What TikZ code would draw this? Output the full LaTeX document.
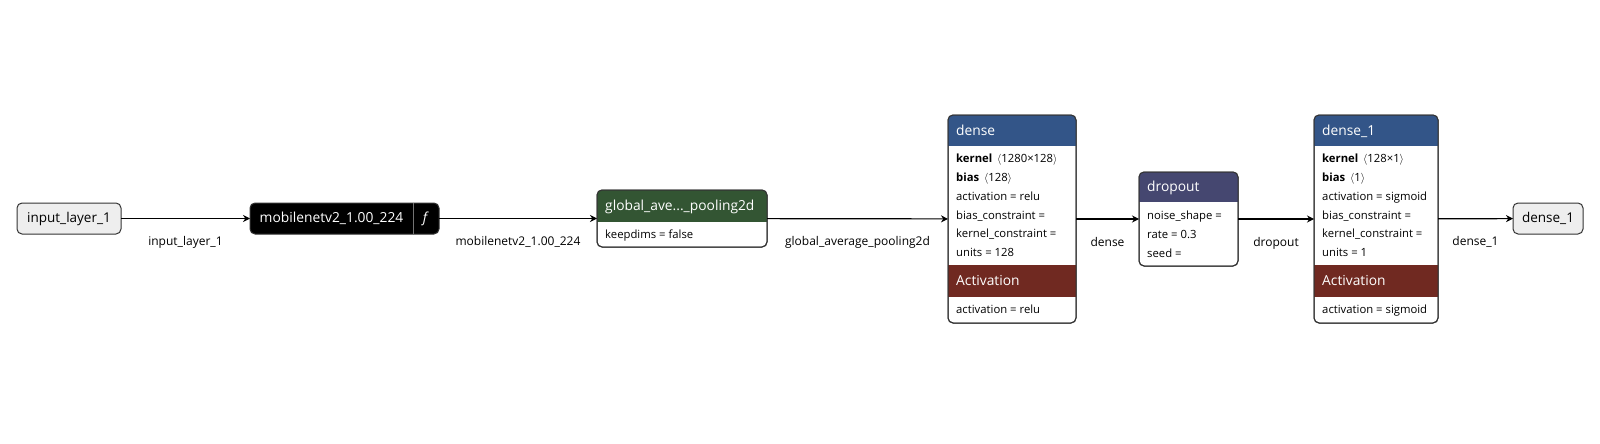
\documentclass[tikz,border=0pt]{standalone}
\usepackage{fontspec}
\setmainfont{Open Sans}
\usetikzlibrary{arrows.meta,positioning}
\definecolor{layerblue}{RGB}{51,85,136}
\definecolor{actred}{RGB}{112,41,33}
\definecolor{poolgreen}{RGB}{51,85,51}
\definecolor{dropviolet}{RGB}{69,71,112}
\definecolor{iogray}{RGB}{238,238,238}
\definecolor{framegray}{RGB}{51,51,51}

\begin{document}
\begin{tikzpicture}[x=1pt, y=-1pt,
  font=\fontsize{11.3}{13}\selectfont,
  frame/.style={draw=framegray, line width=1pt, rounded corners=5pt,
                fill=white, inner sep=0pt, outer sep=0pt},
  frameline/.style={draw=framegray, line width=1pt, rounded corners=5pt},
  io/.style={frame, fill=iogray, minimum height=31pt,
             font=\fontsize{13.5}{16}\selectfont},
  head/.style={anchor=west, text=white, inner sep=0pt,
               text height=10pt, text depth=3pt,
               font=\fontsize{13.8}{16}\selectfont},
  attr/.style={anchor=west, inner sep=0pt, text height=8pt, text depth=2.5pt},
  flow/.style={-{Stealth[length=7pt,width=7pt]}, line width=1.2pt, draw=black},
  lbl/.style={midway, below=14pt, font=\fontsize{12}{14}\selectfont}]
  \useasboundingbox (0,0) rectangle (1600,444);

  % input and output
  \node[io, minimum width=104pt] (input) at (69,218.5) {input\_layer\_1};
  \node[io, minimum width=70pt] (output) at (1548,218.5) {dense\_1};

  % mobilenet function block
  \node[frame, fill=black, minimum width=189pt, minimum height=31pt]
    (mobile) at (344.5,218.5) {};
  \draw[black!55, line width=0.8pt] ([xshift=-26pt]mobile.north east)
    -- ([xshift=-26pt]mobile.south east);
  \node[head, anchor=center] (mobilename) at (331.5,219)
    {mobilenetv2\_1.00\_224};
  \node[head, anchor=center] (mobilef) at (426,219) {\textit{f}};

  % global average pooling
  \node[frame, minimum width=170pt, minimum height=57pt] (gap) at (682,218.5) {};
  \begin{scope}
    \clip[rounded corners=5pt] (gap.north west) rectangle (gap.south east);
    \fill[poolgreen] (gap.north west) rectangle ([yshift=-32pt]gap.north east);
  \end{scope}
  \draw[frameline] (gap.north west) rectangle (gap.south east);
  \node[head] (gaphead) at (605,207) {global\_ave...\_pooling2d};
  \node[attr] (gapkeep) at (605,236) {keepdims = false};

  % dense
  \node[frame, minimum width=128pt, minimum height=208pt] (dense) at (1012,219) {};
  \begin{scope}
    \clip[rounded corners=5pt] (dense.north west) rectangle (dense.south east);
    \fill[layerblue] (dense.north west) rectangle ([yshift=-31pt]dense.north east);
    \fill[actred] ([yshift=-150pt]dense.north west)
      rectangle ([yshift=-182pt]dense.north east);
  \end{scope}
  \draw[frameline] (dense.north west) rectangle (dense.south east);
  \node[head] (densehead) at (956,131.5) {dense};
  \node[attr] (densekernel) at (956,160) {\textbf{kernel}\ \,$\langle$1280×128$\rangle$};
  \node[attr] (densebias) at (956,178.8) {\textbf{bias}\ \,$\langle$128$\rangle$};
  \node[attr] (denseact) at (956,197.6) {activation = relu};
  \node[attr] (densebc) at (956,216.4) {bias\_constraint =};
  \node[attr] (densekc) at (956,235.2) {kernel\_constraint =};
  \node[attr] (denseunits) at (956,254) {units = 128};
  \node[head] (denseacthead) at (956,282) {Activation};
  \node[attr] (denseactval) at (956,311) {activation = relu};

  % dropout
  \node[frame, minimum width=99pt, minimum height=94pt] (drop) at (1188.5,219) {};
  \begin{scope}
    \clip[rounded corners=5pt] (drop.north west) rectangle (drop.south east);
    \fill[dropviolet] (drop.north west) rectangle ([yshift=-30pt]drop.north east);
  \end{scope}
  \draw[frameline] (drop.north west) rectangle (drop.south east);
  \node[head] (drophead) at (1147,188) {dropout};
  \node[attr] (dropnoise) at (1147,217) {noise\_shape =};
  \node[attr] (droprate) at (1147,235.8) {rate = 0.3};
  \node[attr] (dropseed) at (1147,254.6) {seed =};

  % dense_1
  \node[frame, minimum width=124pt, minimum height=208pt] (denseone) at (1376,219) {};
  \begin{scope}
    \clip[rounded corners=5pt] (denseone.north west) rectangle (denseone.south east);
    \fill[layerblue] (denseone.north west) rectangle ([yshift=-31pt]denseone.north east);
    \fill[actred] ([yshift=-150pt]denseone.north west)
      rectangle ([yshift=-182pt]denseone.north east);
  \end{scope}
  \draw[frameline] (denseone.north west) rectangle (denseone.south east);
  \node[head] (denseonehead) at (1322,131.5) {dense\_1};
  \node[attr] (denseonekernel) at (1322,160) {\textbf{kernel}\ \,$\langle$128×1$\rangle$};
  \node[attr] (denseonebias) at (1322,178.8) {\textbf{bias}\ \,$\langle$1$\rangle$};
  \node[attr] (denseoneact) at (1322,197.6) {activation = sigmoid};
  \node[attr] (denseonebc) at (1322,216.4) {bias\_constraint =};
  \node[attr] (denseonekc) at (1322,235.2) {kernel\_constraint =};
  \node[attr] (denseoneunits) at (1322,254) {units = 1};
  \node[head] (denseoneacthead) at (1322,282) {Activation};
  \node[attr] (denseoneactval) at (1322,311) {activation = sigmoid};

  % connectors
  \draw[flow] (input) -- (mobile) node[lbl] {input\_layer\_1};
  \draw[flow] (mobile) -- (gap) node[lbl] {mobilenetv2\_1.00\_224};
  \draw[flow] (gap) -- (dense) node[lbl] {global\_average\_pooling2d};
  \draw[flow] (dense) -- (drop) node[lbl] {dense};
  \draw[flow] (drop) -- (denseone) node[lbl] {dropout};
  \draw[flow] (denseone) -- (output) node[lbl] {dense\_1};
\end{tikzpicture}
\end{document}
